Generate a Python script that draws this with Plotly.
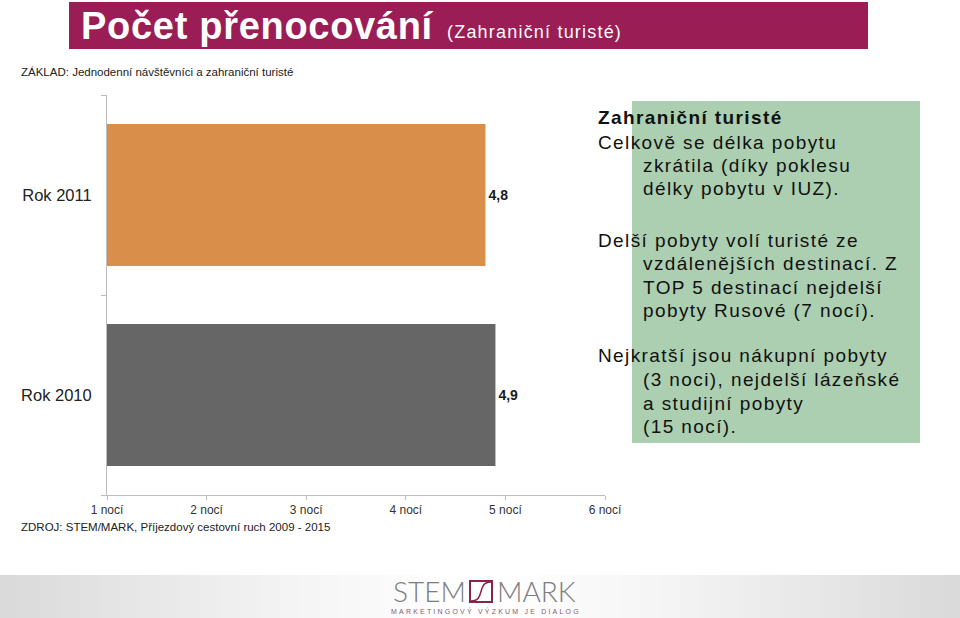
import plotly.graph_objects as go

# ---------------- data ----------------
categories = ["Rok 2010", "Rok 2011"]
values = [4.9, 4.8]
bar_colors = ["#666666", "#D98F4A"]
x_tickvals = [1, 2, 3, 4, 5, 6]
x_ticktext = ["1 nocí", "2 nocí", "3 nocí", "4 nocí", "5 nocí", "6 nocí"]

title_main = "Počet přenocování"
title_sub = "(Zahraniční turisté)"
base_note = "ZÁKLAD: Jednodenní návštěvníci a zahraniční turisté"
source_note = "ZDROJ: STEM/MARK, Příjezdový cestovní ruch 2009 - 2015"
box_lines = [
    ("<b>Zahraniční turisté</b>", 0),
    ("Celkově se délka pobytu", 0),
    ("zkrátila (díky poklesu", 1),
    ("délky pobytu v IUZ).", 1),
    ("Delší pobyty volí turisté ze", 0),
    ("vzdálenějších destinací. Z", 1),
    ("TOP 5 destinací nejdelší", 1),
    ("pobyty Rusové (7 nocí).", 1),
    ("Nejkratší jsou nákupní pobyty", 0),
    ("(3 noci), nejdelší lázeňské", 1),
    ("a studijní pobyty", 1),
    ("(15 nocí).", 1),
]
box_line_y = [117, 142, 165, 189, 240, 263, 287, 310, 355, 379, 403, 427]

W, H = 960, 618


def px(x):
    return x / W


def py(y):
    return 1 - y / H


def spaced(txt, sp):
    return f'<span style="letter-spacing:{sp}px">{txt}</span>'


fig = go.Figure()
fig.add_trace(go.Bar(
    y=categories, x=values, orientation="h",
    marker=dict(color=bar_colors, line=dict(width=0)),
    texttemplate="%{x:.1f}", textposition="outside",
    textfont=dict(family="Liberation Sans", size=14, color="#1a1a1a", weight="bold"),
    cliponaxis=False, hoverinfo="skip",
))

shapes = []
# header band
shapes.append(dict(type="rect", xref="paper", yref="paper",
                   x0=px(69), x1=px(868), y0=py(49), y1=py(2),
                   fillcolor="#9A1D55", line=dict(width=0), layer="below"))
# green note box
shapes.append(dict(type="rect", xref="paper", yref="paper",
                   x0=px(632), x1=px(920), y0=py(443), y1=py(101),
                   fillcolor="#ABCFB0", line=dict(width=0), layer="below"))
# footer gradient strips
n = 48
for i in range(n):
    x0 = i * W / n
    x1 = (i + 1) * W / n
    c = (x0 + x1) / 2
    t = abs(c - 480) / 480
    g = int(round(255 - 38 * t ** 1.3))
    shapes.append(dict(type="rect", xref="paper", yref="paper",
                       x0=px(x0), x1=px(x1) + 0.001, y0=0, y1=py(575),
                       fillcolor=f"rgb({g},{g},{g})", line=dict(width=0), layer="below"))
# logo square
shapes.append(dict(type="rect", xref="paper", yref="paper",
                   x0=px(470), x1=px(492), y0=py(602), y1=py(581),
                   fillcolor="white", line=dict(color="#8B2346", width=2)))
shapes.append(dict(type="path", xref="paper", yref="paper",
                   path=f"M {px(471)},{py(601)} C {px(486)},{py(601)} {px(476)},{py(582)} {px(491)},{py(582)}",
                   line=dict(color="#8B2346", width=1.5)))

annotations = []
annotations.append(dict(text=spaced(title_main, 0.7), x=px(79), y=py(26), xref="paper", yref="paper",
                        xanchor="left", yanchor="middle", showarrow=False,
                        font=dict(family="Liberation Sans", size=38,
                                  color="white", weight="bold")))
annotations.append(dict(text=spaced(title_sub, 1.2), x=px(445), y=py(32), xref="paper", yref="paper",
                        xanchor="left", yanchor="middle", showarrow=False,
                        font=dict(family="Liberation Sans", size=18,
                                  color="white")))
annotations.append(dict(text=base_note, x=px(19), y=py(72), xref="paper", yref="paper",
                        xanchor="left", yanchor="middle", showarrow=False,
                        font=dict(family="Liberation Sans", size=11.5, color="#222")))
annotations.append(dict(text=source_note, x=px(19), y=py(527), xref="paper", yref="paper",
                        xanchor="left", yanchor="middle", showarrow=False,
                        font=dict(family="Liberation Sans", size=11.5, color="#222")))
for (txt, ind), yy in zip(box_lines, box_line_y):
    annotations.append(dict(text=spaced(txt, 1.4), x=px(641 if ind else 596), y=py(yy),
                            xref="paper", yref="paper", xanchor="left", yanchor="middle",
                            showarrow=False,
                            font=dict(family="Liberation Sans", size=19, color="#111")))
# logo text
annotations.append(dict(text="STEM", x=px(468), y=py(591), xref="paper", yref="paper",
                        xanchor="right", yanchor="middle", showarrow=False,
                        font=dict(family="Lato", size=28, color="#7d7d7d", weight=300)))
annotations.append(dict(text="MARK", x=px(495), y=py(591), xref="paper", yref="paper",
                        xanchor="left", yanchor="middle", showarrow=False,
                        font=dict(family="Lato", size=28, color="#7d7d7d", weight=300)))
annotations.append(dict(text=spaced("MARKETINGOVÝ VÝZKUM JE DIALOG", 2.2), x=px(486), y=py(611),
                        xref="paper", yref="paper", xanchor="center", yanchor="middle",
                        showarrow=False,
                        font=dict(family="Liberation Sans", size=7, color="#8a5a6e")))

fig.update_layout(
    width=W, height=H,
    margin=dict(l=0, r=0, t=0, b=0, pad=0),
    paper_bgcolor="white", plot_bgcolor="white",
    showlegend=False, separators=", ",
    bargap=0.29,
    shapes=shapes, annotations=annotations,
    xaxis=dict(domain=[px(107), px(605)], range=[1, 6], tickvals=x_tickvals,
               ticktext=x_ticktext, showgrid=False, zeroline=False, showline=True,
               linecolor="#BDBDBD", linewidth=1, ticks="outside", ticklen=4,
               tickcolor="#BDBDBD", automargin=False,
               tickfont=dict(family="Liberation Sans", size=12, color="#333")),
    yaxis=dict(domain=[py(495), py(95)], categoryorder="array", categoryarray=categories,
               showgrid=False, zeroline=False, showline=True, linecolor="#BDBDBD",
               linewidth=1, ticks="outside", ticklen=5, tickcolor="#BDBDBD",
               tickson="boundaries", automargin=False, ticklabelstandoff=11,
               tickfont=dict(family="Liberation Sans", size=16.5, color="#222")),
)

fig.write_html("out.html")
